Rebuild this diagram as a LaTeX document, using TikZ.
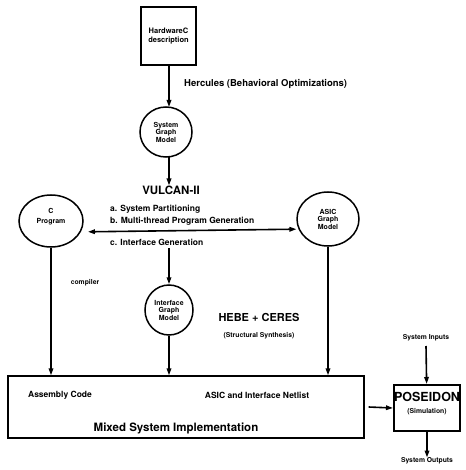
\documentclass[tikz,border=0pt]{standalone}
\usepackage{fontspec}
\setmainfont{TeX Gyre Heros}
\usetikzlibrary{arrows.meta,shapes.geometric}

\begin{document}
\begin{tikzpicture}[x=1pt,y=-1pt,
    every node/.style={inner sep=0pt, align=center},
    model/.style={draw, line width=1.5pt, ellipse, font=\bfseries\fontsize{7}{7.5}\selectfont},
    flow/.style={line width=1.6pt, -{Triangle[length=7pt,width=4.5pt]}},
    tiny/.style={font=\bfseries\fontsize{6.8}{7}\selectfont},
    small/.style={font=\bfseries\fontsize{8.5}{9}\selectfont},
    big/.style={font=\bfseries\fontsize{11.5}{12}\selectfont}]

    % Fix the picture size to the reference
    \useasboundingbox (0,0) rectangle (465,470);

    % Input description
    \node[draw, line width=1.5pt, minimum width=55, minimum height=58,
          font=\bfseries\fontsize{7.5}{8.5}\selectfont] (hwc) at (168.5,36) {HardwareC\\description};

    % System graph model and the partitioning step
    \node[model, minimum width=52, minimum height=50] (sgm) at (166,132) {System\\Graph\\Model};
    \node[big] (vulcan) at (171,190) {VULCAN-II};

    % The three results of partitioning
    \node[model, minimum width=64, minimum height=52] (cprog) at (51,221) {C\\[3pt]Program\\[3pt]\mbox{}};
    \node[model, minimum width=62, minimum height=54] (asic) at (328,219) {ASIC\\Graph\\Model};
    \node[model, minimum width=48, minimum height=50] (ifm) at (169,310) {Interface\\Graph\\Model};

    % Steps done by VULCAN-II
    \node[small, anchor=west] (part) at (110,209) {a. System Partitioning};
    \node[small, anchor=west] (mtpg) at (110,221) {b. Multi-thread Program Generation};
    \node[small, anchor=west] (ifgen) at (110,242) {c. Interface Generation};

    % Tool labels
    \node[font=\bfseries\fontsize{9.5}{10}\selectfont, anchor=west] (herc) at (184,84) {Hercules (Behavioral Optimizations)};
    \node[tiny] (comp) at (85,283) {compiler};
    \node[font=\bfseries\fontsize{11}{12}\selectfont] (hebe) at (259,317) {HEBE + CERES};
    \node[tiny] (struct) at (259,336) {(Structural Synthesis)};

    % Mixed system implementation
    \node[draw, line width=1.3pt, minimum width=356, minimum height=62] (impl) at (186,407) {};
    \node[small] (asm) at (60,395) {Assembly Code};
    \node[small] (net) at (257,395) {ASIC and Interface Netlist};
    \node[big] (mix) at (176,428) {Mixed System Implementation};

    % Simulation
    \node[draw, line width=2pt, minimum width=66, minimum height=46] (pos) at (427,408) {};
    \node[font=\bfseries\fontsize{12.5}{13}\selectfont] (posname) at (427,397) {POSEIDON};
    \node[tiny] (sim) at (427,412) {(Simulation)};
    \node[tiny] (sysin) at (426,338) {System Inputs};
    \node[tiny] (sysout) at (427,461) {System Outputs};

    % Connectors
    \draw[flow] (hwc.south -| 169,0) -- (169,107);
    \draw[flow] (169,157) -- (vulcan.north -| 169,0);
    \draw[line width=1.6pt, {Triangle[length=7pt,width=4.5pt]}-{Triangle[length=7pt,width=4.5pt]},
          shorten <=7pt, shorten >=2pt] (cprog.-20) -- (asic.199);
    \draw[flow] (ifgen.south -| ifm.north) ++(0,3) -- (ifm);
    \draw[flow] (ifm) -- (ifm |- impl.north);
    \draw[flow] (cprog) -- (cprog |- impl.north);
    \draw[flow] (asic) -- (asic |- impl.north);
    \draw[flow] (impl.east |- pos.west) ++(4,-1) -- (pos.west);
    \draw[flow] (sysin) ++(0,8) -- (pos);
    \draw[flow] (pos) -- (sysout.north);

\end{tikzpicture}
\end{document}
